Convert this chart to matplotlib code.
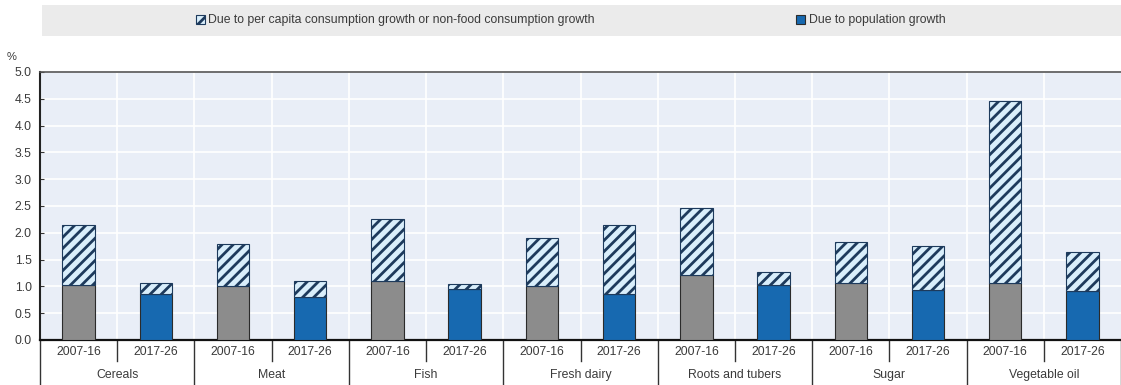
import matplotlib.pyplot as plt
from matplotlib.patches import Patch
from matplotlib.lines import Line2D

plt.rcParams['font.family'] = ['Liberation Sans Narrow', 'Liberation Sans', 'DejaVu Sans']
plt.rcParams['hatch.linewidth'] = 2.0

# Annual growth of total food demand, split into its drivers
commodities = ["Cereals", "Meat", "Fish", "Fresh dairy", "Roots and tubers", "Sugar", "Vegetable oil"]
periods = ["2007-16", "2017-26"]

# population-growth component (bottom of each stack)
pop_2007 = [1.02, 1.00, 1.11, 1.00, 1.21, 1.06, 1.06]
pop_2017 = [0.85, 0.81, 0.96, 0.86, 1.03, 0.93, 0.92]
# total growth (top of each stack)
total_2007 = [2.15, 1.80, 2.25, 1.91, 2.46, 1.83, 4.46]
total_2017 = [1.07, 1.10, 1.04, 2.14, 1.27, 1.75, 1.64]

grey = "#8c8c8c"
blue = "#1769b0"
hatch_bg = "#d9eefb"
hatch_fg = "#1d3a5c"
edge = "#2b2b2b"

fig = plt.figure(figsize=(11.21, 3.85), dpi=100)
ax = fig.add_axes([40 / 1121, 1 - 340 / 385, 1 - 40 / 1121, 268 / 385])
ax.set_facecolor("#e9eef7")

n = len(commodities)
x_old = [2 * i + 0.5 for i in range(n)]
x_new = [2 * i + 1.5 for i in range(n)]
w = 0.42

ax.bar(x_old, pop_2007, w, color=grey, edgecolor=edge, linewidth=0.8, zorder=3)
ax.bar(x_new, pop_2017, w, color=blue, edgecolor=edge, linewidth=0.8, zorder=3)
ax.bar(x_old, [t - p for t, p in zip(total_2007, pop_2007)], w, bottom=pop_2007,
       color=hatch_bg, edgecolor=hatch_fg, hatch="///", linewidth=0.8, zorder=3)
ax.bar(x_new, [t - p for t, p in zip(total_2017, pop_2017)], w, bottom=pop_2017,
       color=hatch_bg, edgecolor=hatch_fg, hatch="///", linewidth=0.8, zorder=3)

ax.set_xlim(0, 2 * n)
ax.set_ylim(0, 5.0)
ax.set_yticks([i * 0.5 for i in range(11)])
ax.set_yticklabels([f"{i * 0.5:.1f}" for i in range(11)], fontsize=8.8, color="#3a3a3a")
ax.tick_params(axis="y", direction="in", length=3, width=0.8, pad=6, color="#333333")

# white grid: horizontal at each tick, vertical between bars
for y in [i * 0.5 for i in range(1, 11)]:
    ax.axhline(y, color="white", linewidth=1.2, zorder=1)
for xv in range(1, 2 * n):
    ax.axvline(xv, color="white", linewidth=1.2, zorder=1)

ax.spines["right"].set_visible(False)
ax.spines["top"].set_color("#555555")
ax.spines["top"].set_linewidth(1.2)
ax.spines["left"].set_color("#222222")
ax.spines["left"].set_linewidth(1.5)
ax.spines["bottom"].set_color("#111111")
ax.spines["bottom"].set_linewidth(1.6)

# two-level x axis labels
ax.set_xticks(x_old + x_new)
ax.set_xticklabels([periods[0]] * n + [periods[1]] * n, fontsize=8.8, color="#3a3a3a")
ax.tick_params(axis="x", length=0, pad=4)
trans = ax.get_xaxis_transform()
for i, name in enumerate(commodities):
    ax.text(2 * i + 1, -0.13, name, transform=trans, ha="center", va="center",
            fontsize=8.8, color="#3a3a3a")
    ax.add_line(Line2D([2 * i + 1, 2 * i + 1], [0, -0.08], transform=trans,
                       color="#333333", linewidth=1.0, clip_on=False))
for xv in range(0, 2 * n + 1, 2):
    ax.add_line(Line2D([xv, xv], [0, -0.17], transform=trans,
                       color="#333333", linewidth=1.0, clip_on=False))

fig.text(12 / 1121, 1 - 57 / 385, "%", fontsize=8, color="#3a3a3a", ha="center", va="center")

# legend strip on a grey band
band = fig.add_axes([42 / 1121, 1 - 36 / 385, 1 - 42 / 1121, 31 / 385])
band.set_facecolor("#ebebeb")
band.set_xticks([])
band.set_yticks([])
for s in band.spines.values():
    s.set_visible(False)
handles = [
    Patch(facecolor=hatch_bg, edgecolor=hatch_fg, hatch="///", linewidth=0.8,
          label="Due to per capita consumption growth or non-food consumption growth"),
    Patch(facecolor=blue, edgecolor=edge, linewidth=0.8, label="Due to population growth"),
]
band.legend(handles=handles, loc="center", ncol=2, frameon=False, fontsize=8.8,
            handlelength=0.7, handleheight=0.7, handletextpad=0.3, columnspacing=16.5,
            bbox_to_anchor=(0.49, 0.5), labelcolor="#3a3a3a")

fig.savefig("out.png", dpi=100)
